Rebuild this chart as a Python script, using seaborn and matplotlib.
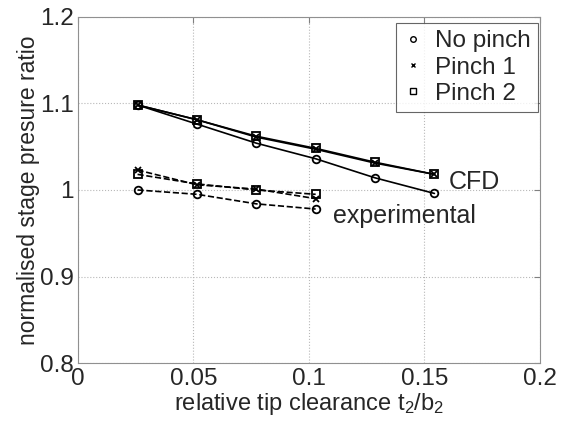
import matplotlib
matplotlib.use('Agg')
import matplotlib.pyplot as plt
from matplotlib.lines import Line2D
import seaborn as sns
import pandas as pd

# tip clearance values
x_cfd = [0.0258, 0.0515, 0.0772, 0.1029, 0.1286, 0.1543]
x_exp = [0.0258, 0.0515, 0.0772, 0.1029]

# CFD
cfd_no_pinch = [1.098, 1.076, 1.054, 1.036, 1.014, 0.996]
cfd_pinch1 = [1.098, 1.081, 1.061, 1.047, 1.031, 1.018]
cfd_pinch2 = [1.098, 1.081, 1.062, 1.048, 1.032, 1.018]

# experimental
exp_no_pinch = [1.000, 0.995, 0.984, 0.978]
exp_pinch1 = [1.023, 1.006, 1.001, 0.990]
exp_pinch2 = [1.018, 1.007, 1.000, 0.995]

nomes = ['No pinch', 'Pinch 1', 'Pinch 2']
marcadores = {'No pinch': 'o', 'Pinch 1': 'x', 'Pinch 2': 's'}

linhas = []
for nome, vals in zip(nomes, [cfd_no_pinch, cfd_pinch1, cfd_pinch2]):
    for xv, yv in zip(x_cfd, vals):
        linhas.append({'x': xv, 'y': yv, 'caso': nome, 'fonte': 'CFD'})
for nome, vals in zip(nomes, [exp_no_pinch, exp_pinch1, exp_pinch2]):
    for xv, yv in zip(x_exp, vals):
        linhas.append({'x': xv, 'y': yv, 'caso': nome, 'fonte': 'experimental'})
df = pd.DataFrame(linhas)

sns.set_style('white')
plt.rcParams['font.family'] = ['Liberation Sans', 'DejaVu Sans']
plt.rcParams['mathtext.fontset'] = 'custom'
plt.rcParams['mathtext.rm'] = 'Liberation Sans'
plt.rcParams['mathtext.it'] = 'Liberation Sans'

fig = plt.figure(figsize=(5.69, 4.25), dpi=100)
ax = fig.add_axes([0.137, 0.145, 0.812, 0.816])

for fonte, estilo in [('CFD', '-'), ('experimental', '--')]:
    for nome in nomes:
        sub = df[(df['fonte'] == fonte) & (df['caso'] == nome)]
        m = marcadores[nome]
        sns.lineplot(data=sub, x='x', y='y', ax=ax, color='black', linestyle=estilo,
                     linewidth=1.2, marker=m, markersize=5.5 if m != 'x' else 4.5,
                     markerfacecolor='none', markeredgecolor='black',
                     markeredgewidth=1.3, legend=False)

ax.set_xlim(0, 0.2)
ax.set_ylim(0.8, 1.2)
ax.set_xticks([0, 0.05, 0.1, 0.15, 0.2])
ax.set_xticklabels(['0', '0.05', '0.1', '0.15', '0.2'])
ax.set_yticks([0.8, 0.9, 1.0, 1.1, 1.2])
ax.set_yticklabels(['0.8', '0.9', '1', '1.1', '1.2'])
ax.tick_params(direction='in', length=4, color='#808080', labelsize=17.5,
               top=True, right=True)
ax.tick_params(axis='x', pad=3)
ax.tick_params(axis='y', pad=3)
ax.grid(True, linestyle=':', color='#b8b8b8', linewidth=0.8)
for s in ax.spines.values():
    s.set_color('#909090')
    s.set_linewidth(0.8)

ax.set_xlabel('relative tip clearance t$_2$/b$_2$', fontsize=17, labelpad=1)
ax.set_ylabel('normalised stage presure ratio', fontsize=16.5, labelpad=0)

ax.text(0.1607, 1.009, 'CFD', fontsize=18, va='center')
ax.text(0.1104, 0.970, 'experimental', fontsize=18, va='center')

handles = [Line2D([], [], linestyle='none', marker=marcadores[n], color='black',
                  markerfacecolor='none', markersize=4 if n != 'Pinch 1' else 3.5,
                  markeredgewidth=1.0) for n in nomes]
leg = ax.legend(handles, nomes, loc='upper right', bbox_to_anchor=(0.9957, 0.982),
                borderaxespad=0, fontsize=17.5, frameon=True,
                fancybox=False, edgecolor='#404040', handlelength=0.8,
                handletextpad=0.5, labelspacing=0.18, borderpad=0.3)
leg.get_frame().set_linewidth(0.8)

plt.savefig('out.png', dpi=100)
